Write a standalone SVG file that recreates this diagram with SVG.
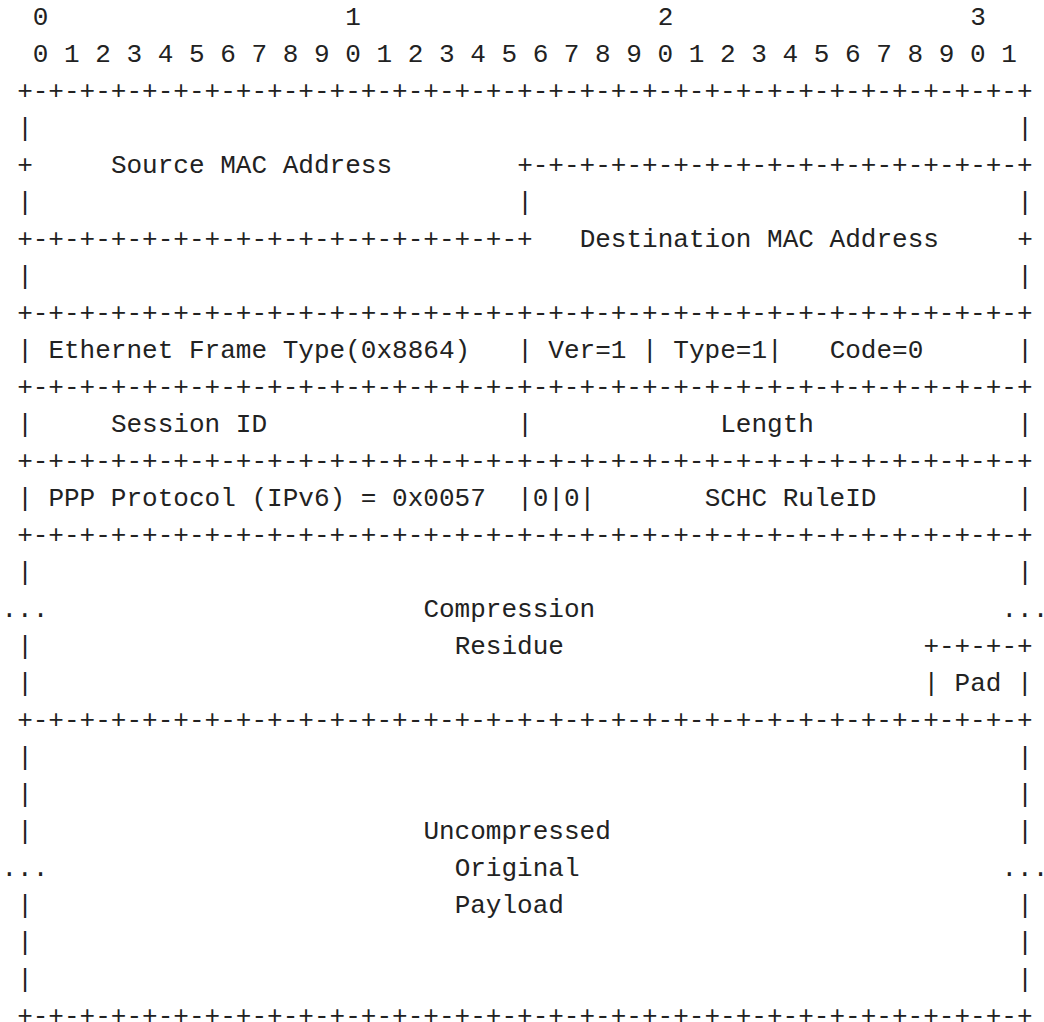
<svg xmlns="http://www.w3.org/2000/svg" width="1044" height="1022" viewBox="0 0 1044 1022" xml:space="preserve">
<style>
text { font-family: "Liberation Mono", "DejaVu Sans Mono", monospace; font-size: 26.04px; fill: #222222; white-space: pre; }
</style>
<rect x="0" y="0" width="1044" height="1022" fill="#ffffff"/>
<g id="bit-ruler">
<text x="32.75" y="24.5">0</text>
<text x="345.25" y="24.5">1</text>
<text x="657.75" y="24.5">2</text>
<text x="970.25" y="24.5">3</text>
<text x="32.75" y="61.5">0 1 2 3 4 5 6 7 8 9 0 1 2 3 4 5 6 7 8 9 0 1 2 3 4 5 6 7 8 9 0 1</text>
</g>
<g id="borders">
<text x="17.125" y="98.5">+-+-+-+-+-+-+-+-+-+-+-+-+-+-+-+-+-+-+-+-+-+-+-+-+-+-+-+-+-+-+-+-+</text>
<text x="517.125" y="172.5">+-+-+-+-+-+-+-+-+-+-+-+-+-+-+-+-+</text>
<text x="17.125" y="246.5">+-+-+-+-+-+-+-+-+-+-+-+-+-+-+-+-+</text>
<text x="17.125" y="320.5">+-+-+-+-+-+-+-+-+-+-+-+-+-+-+-+-+-+-+-+-+-+-+-+-+-+-+-+-+-+-+-+-+</text>
<text x="17.125" y="394.5">+-+-+-+-+-+-+-+-+-+-+-+-+-+-+-+-+-+-+-+-+-+-+-+-+-+-+-+-+-+-+-+-+</text>
<text x="17.125" y="468.5">+-+-+-+-+-+-+-+-+-+-+-+-+-+-+-+-+-+-+-+-+-+-+-+-+-+-+-+-+-+-+-+-+</text>
<text x="17.125" y="542.5">+-+-+-+-+-+-+-+-+-+-+-+-+-+-+-+-+-+-+-+-+-+-+-+-+-+-+-+-+-+-+-+-+</text>
<text x="923.375" y="653.5">+-+-+-+</text>
<text x="17.125" y="727.5">+-+-+-+-+-+-+-+-+-+-+-+-+-+-+-+-+-+-+-+-+-+-+-+-+-+-+-+-+-+-+-+-+</text>
<text x="17.125" y="1023.5">+-+-+-+-+-+-+-+-+-+-+-+-+-+-+-+-+-+-+-+-+-+-+-+-+-+-+-+-+-+-+-+-+</text>
</g>
<g id="source-mac">
<text x="17.125" y="135.5">|</text>
<text x="17.125" y="172.5">+</text>
<text x="110.875" y="172.5">Source MAC Address</text>
<text x="17.125" y="209.5">|</text>
</g>
<g id="destination-mac">
<text x="1017.125" y="135.5">|</text>
<text x="517.125" y="209.5">|</text>
<text x="1017.125" y="209.5">|</text>
<text x="579.625" y="246.5">Destination MAC Address</text>
<text x="1017.125" y="246.5">+</text>
<text x="17.125" y="283.5">|</text>
<text x="1017.125" y="283.5">|</text>
</g>
<g id="ethernet-row">
<text x="17.125" y="357.5">|</text>
<text x="48.375" y="357.5">Ethernet Frame Type(0x8864)</text>
<text x="517.125" y="357.5">| Ver=1 | Type=1|</text>
<text x="829.625" y="357.5">Code=0</text>
<text x="1017.125" y="357.5">|</text>
</g>
<g id="session-row">
<text x="17.125" y="431.5">|</text>
<text x="110.875" y="431.5">Session ID</text>
<text x="517.125" y="431.5">|</text>
<text x="720.25" y="431.5">Length</text>
<text x="1017.125" y="431.5">|</text>
</g>
<g id="ppp-row">
<text x="17.125" y="505.5">|</text>
<text x="48.375" y="505.5">PPP Protocol (IPv6) = 0x0057</text>
<text x="517.125" y="505.5">|0|0|</text>
<text x="704.625" y="505.5">SCHC RuleID</text>
<text x="1017.125" y="505.5">|</text>
</g>
<g id="compression-residue">
<text x="17.125" y="579.5">|</text>
<text x="1017.125" y="579.5">|</text>
<text x="1.5" y="616.5">...</text>
<text x="423.375" y="616.5">Compression</text>
<text x="1001.5" y="616.5">...</text>
<text x="17.125" y="653.5">|</text>
<text x="454.625" y="653.5">Residue</text>
<text x="17.125" y="690.5">|</text>
</g>
<g id="pad">
<text x="923.375" y="690.5">| Pad |</text>
</g>
<g id="payload">
<text x="17.125" y="764.5">|</text>
<text x="1017.125" y="764.5">|</text>
<text x="17.125" y="801.5">|</text>
<text x="1017.125" y="801.5">|</text>
<text x="17.125" y="838.5">|</text>
<text x="423.375" y="838.5">Uncompressed</text>
<text x="1017.125" y="838.5">|</text>
<text x="1.5" y="875.5">...</text>
<text x="454.625" y="875.5">Original</text>
<text x="1001.5" y="875.5">...</text>
<text x="17.125" y="912.5">|</text>
<text x="454.625" y="912.5">Payload</text>
<text x="1017.125" y="912.5">|</text>
<text x="17.125" y="949.5">|</text>
<text x="1017.125" y="949.5">|</text>
<text x="17.125" y="986.5">|</text>
<text x="1017.125" y="986.5">|</text>
</g>
</svg>
